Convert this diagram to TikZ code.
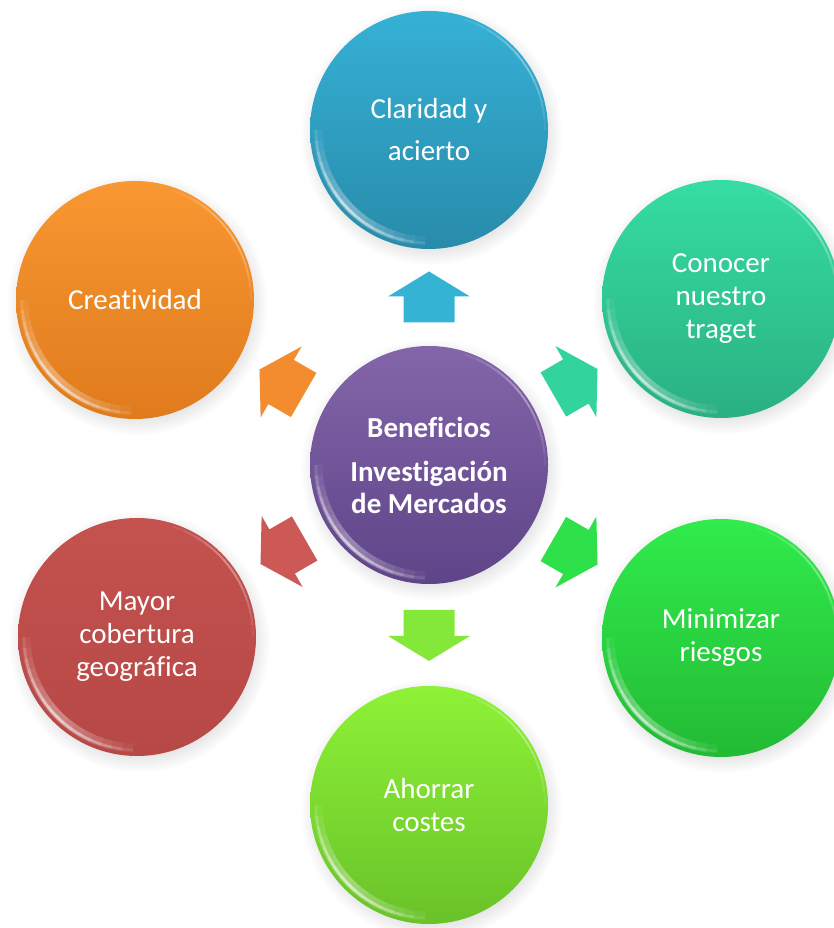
\documentclass[tikz,border=0pt]{standalone}
\usepackage{fontspec}
\setmainfont{Carlito}[Ligatures={NoCommon}]
\usetikzlibrary{calc,shadows}

% colour pairs for the circles (top / bottom of the gradient) and the arrows
\definecolor{blueT}{HTML}{35B1D6}
\definecolor{blueB}{HTML}{288BAA}
\definecolor{tealT}{HTML}{36DDA2}
\definecolor{tealB}{HTML}{2AB082}
\definecolor{greenT}{HTML}{30EC4C}
\definecolor{greenB}{HTML}{23BA34}
\definecolor{limeT}{HTML}{8EF236}
\definecolor{limeB}{HTML}{69C229}
\definecolor{redT}{HTML}{C4524F}
\definecolor{redB}{HTML}{B64845}
\definecolor{orangeT}{HTML}{F99732}
\definecolor{orangeB}{HTML}{DF7B1C}
\definecolor{purpleT}{HTML}{8465AA}
\definecolor{purpleB}{HTML}{5E4488}

\definecolor{arBlue}{HTML}{34B3D5}
\definecolor{arTeal}{HTML}{33D39D}
\definecolor{arGreen}{HTML}{2EE049}
\definecolor{arLime}{HTML}{84E83A}
\definecolor{arRed}{HTML}{CC5956}
\definecolor{arOrange}{HTML}{F28C2E}

\tikzset{
  bubble/.style={circle, minimum size=238pt, inner sep=0pt, text=white,
    align=center, font=\fontsize{29}{33}\selectfont,
    circular drop shadow={shadow xshift=2pt, shadow yshift=-4pt, opacity=0.22}},
  pics/blockarrow/.style={code={
    \path[pic actions] (-25,-25.5) -- (1,-25.5) -- (1,-41) -- (26,0)
      -- (1,41) -- (1,25.5) -- (-25,25.5) -- cycle;
  }},
  % glossy rim on the lower left and a faint one on the upper right,
  % built from stacked translucent arcs so the light fades towards the ends
  pics/gloss/.style={code={
    \foreach \k in {1,...,8}{
      \draw[white, opacity=0.05, line width=9pt]
        (224-5.5*\k:111) arc[start angle=224-5.5*\k, end angle=224+5.5*\k, radius=111];
      \draw[white, opacity=0.11, line width=2.6pt]
        (224-5.5*\k:113) arc[start angle=224-5.5*\k, end angle=224+5.5*\k, radius=113];
    }
    \foreach \k in {1,...,6}{
      \draw[white, opacity=0.07, line width=2pt]
        (36-6*\k:116) arc[start angle=36-6*\k, end angle=36+6*\k, radius=116];
    }
  }}
}

\begin{document}
\begin{tikzpicture}[x=1pt,y=1pt]
\useasboundingbox (0,0) rectangle (833,928);

% outer circles
\node[bubble, top color=blueT, bottom color=blueB, font=\fontsize{29}{42}\selectfont]
  (clar) at (429,798) {Claridad y\\acierto};
\node[bubble, top color=tealT, bottom color=tealB]
  (cono) at (721,629) {Conocer\\nuestro\\traget};
\node[bubble, top color=greenT, bottom color=greenB]
  (mini) at (721,290) {Minimizar\\riesgos};
\node[bubble, top color=limeT, bottom color=limeB]
  (ahor) at (429,123) {Ahorrar\\costes};
\node[bubble, top color=redT, bottom color=redB]
  (mayo) at (137,291) {Mayor\\cobertura\\geográfica};
\node[bubble, top color=orangeT, bottom color=orangeB]
  (crea) at (135,628) {Creatividad};

% central circle
\node[bubble, top color=purpleT, bottom color=purpleB,
      font=\bfseries\fontsize{29}{32}\selectfont]
  (bene) at (429,463) {Beneficios\\[12pt]Investigación\\de Mercados};

% gloss on every circle
\foreach \n in {clar,cono,mini,ahor,mayo,crea,bene}{
  \pic at (\n.center) {gloss};
}

% block arrows from the centre towards each benefit
\pic[fill=arBlue, rotate=90]    at ($(bene)!0.5!(clar)$) {blockarrow};
\pic[fill=arTeal, rotate=30]    at ($(bene)!0.5!(cono)$) {blockarrow};
\pic[fill=arGreen, rotate=-30]  at ($(bene)!0.5!(mini)$) {blockarrow};
\pic[fill=arLime, rotate=-90]   at ($(bene)!0.5!(ahor)$) {blockarrow};
\pic[fill=arRed, rotate=-150]   at ($(bene)!0.5!(mayo)$) {blockarrow};
\pic[fill=arOrange, rotate=150] at ($(bene)!0.5!(crea)$) {blockarrow};
\end{tikzpicture}
\end{document}
